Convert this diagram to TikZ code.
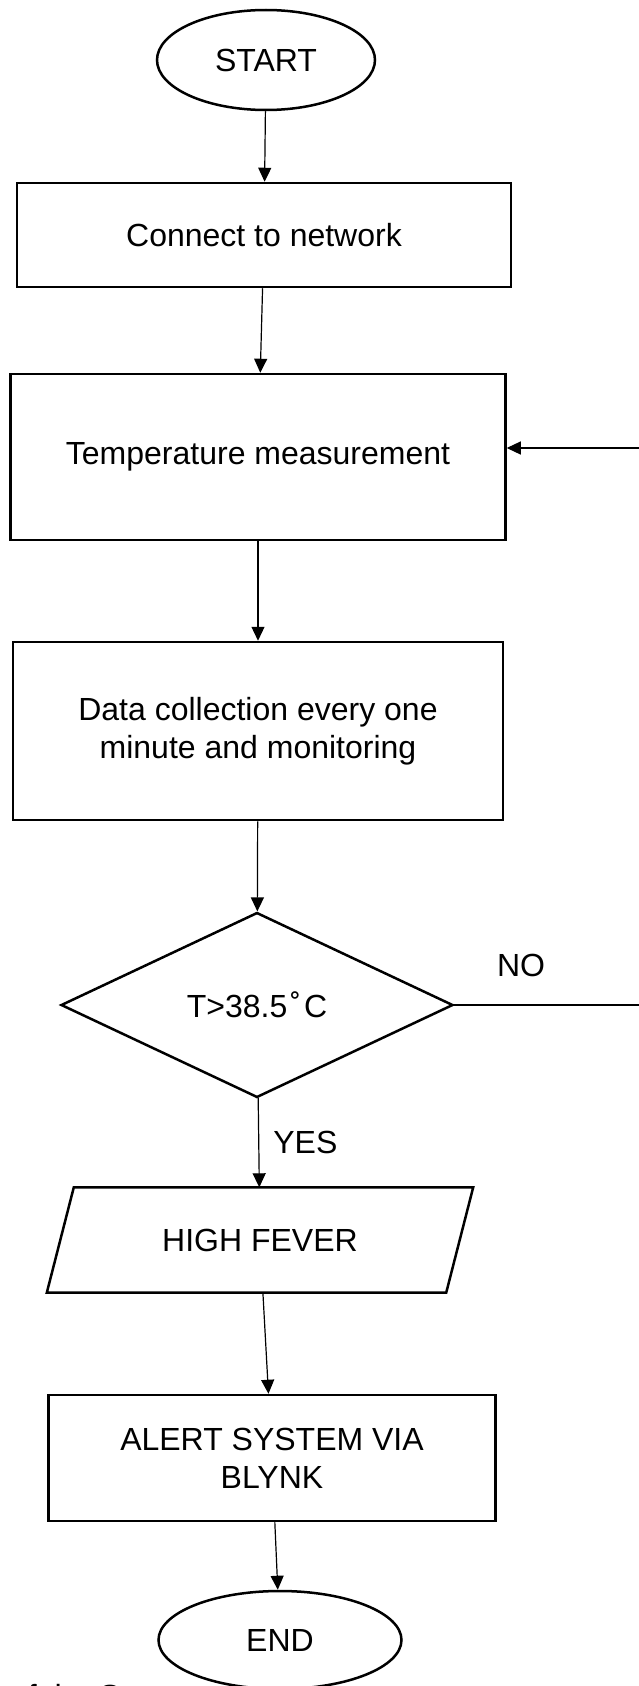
\documentclass[tikz,border=0pt]{standalone}
\usepackage{fontspec}
\setmainfont{Liberation Sans}
\usetikzlibrary{shapes.geometric,arrows.meta}

\tikzset{
  stepbox/.style={draw, line width=2.5pt, rectangle, inner sep=0pt, align=center},
  terminal/.style={draw, line width=2.5pt, ellipse, inner sep=0pt},
  decision/.style={draw, line width=2.5pt, diamond, inner sep=0pt, aspect=2},
  outline/.style={line width=2.5pt, line join=miter},
  flow/.style={line width=1.2pt, -{Triangle[length=14pt,width=13pt]}},
  tag/.style={inner sep=0pt}
}

\begin{document}
\begin{tikzpicture}[x=1pt, y=-1pt, font=\fontsize{32}{38}\selectfont]

        \useasboundingbox (0,0) rectangle (639,1686);

        %Start
        \node [terminal, minimum width=218pt, minimum height=100pt] (start) at (266,60) {START};

        %Connect to network
        \node [stepbox, minimum width=494pt, minimum height=104pt] (connect) at (264,235) {Connect to network};

        %Temperature measurement
        \node [stepbox, minimum width=495pt, minimum height=166pt] (temp) at (258,457) {Temperature measurement};

        %Data collection
        \node [stepbox, minimum width=490pt, minimum height=178pt] (data) at (258,731) {Data collection every one\\minute and monitoring};

        %Decision
        \node [decision, minimum width=392pt, minimum height=185pt] (dec) at (257,1005) {T>38.5\kern3pt˚\kern3pt C};
        \node [tag] (no) at (521,965) {NO};
        \coordinate (back) at (639.3,448);

        %High fever
        \node [tag, minimum width=399pt, minimum height=105pt] (fever) at (260,1240) {HIGH FEVER};
        \draw [outline] ([xshift=13.5pt]fever.north west) -- ([xshift=13.5pt]fever.north east)
          -- ([xshift=-13.5pt]fever.south east) -- ([xshift=-13.5pt]fever.south west) -- cycle;

        %Alert
        \node [stepbox, minimum width=447pt, minimum height=126pt] (alert) at (272,1458) {ALERT SYSTEM VIA\\BLYNK};

        %End
        \node [terminal, minimum width=243pt, minimum height=98pt] (end) at (280,1640) {END};

        %Caption
        \node [tag, anchor=base west] (caption) at (10,1707) {of the System};

        %Arrows
        \draw [flow] (start) -- (connect);
        \draw [flow] (connect) -- (temp);
        \draw [flow] (temp) -- (data);
        \draw [flow] (data) -- (dec);
        \draw [flow] (dec) -- (fever) node [tag, midway, right=14pt] (yes) {YES};
        \draw [flow] (fever) -- (alert);
        \draw [flow] (alert) -- (end);
        \draw [flow] (dec.east) -| (back) -- (back -| temp.east);

\end{tikzpicture}
\end{document}
